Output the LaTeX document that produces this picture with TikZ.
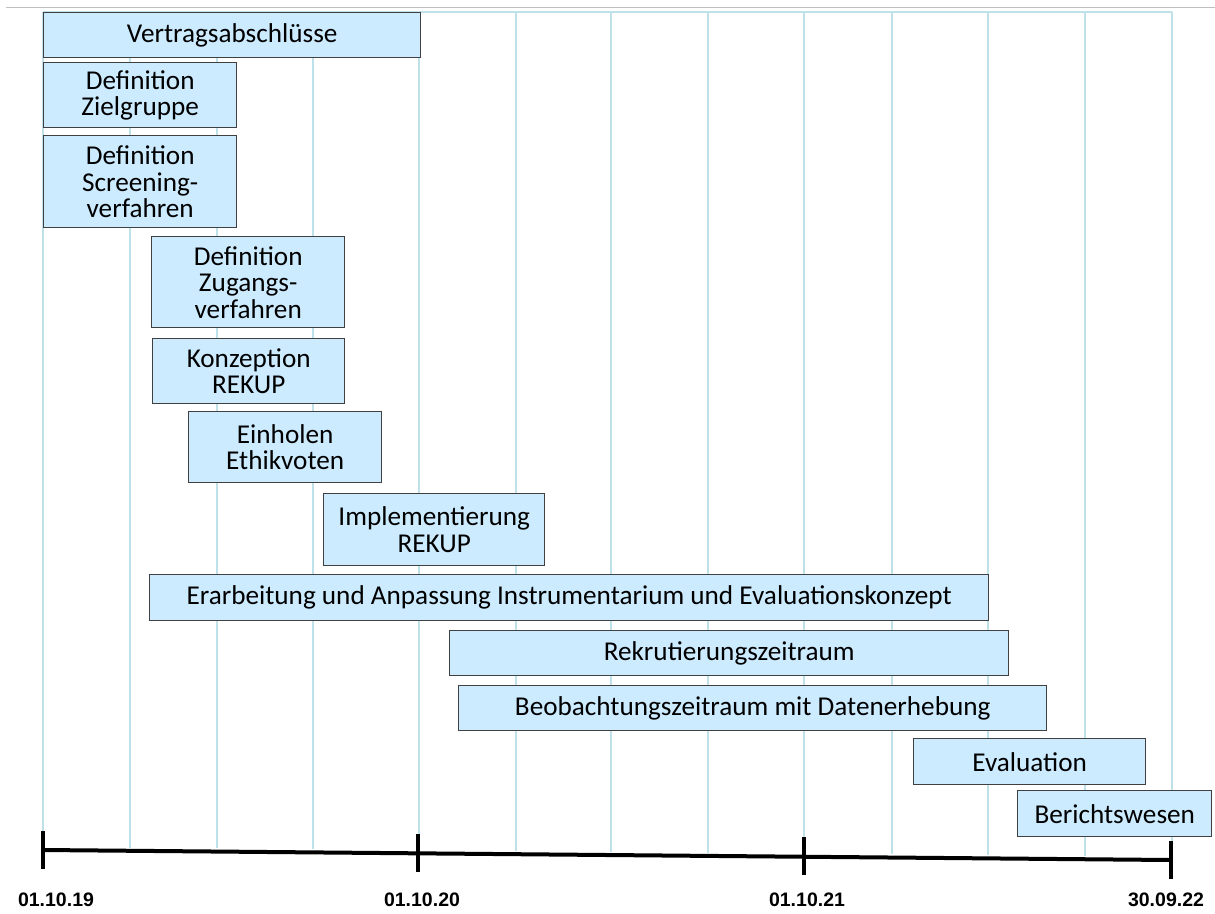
\documentclass[tikz,border=0pt]{standalone}
\usepackage{fontspec}
\setmainfont{Carlito}
\newfontfamily\datefont{Liberation Sans}
\definecolor{barfill}{RGB}{204,235,255}
\definecolor{barline}{RGB}{64,64,64}
\definecolor{gridblue}{RGB}{190,225,234}
\tikzset{
  bar/.style={draw=barline, fill=barfill, line width=1.4pt, anchor=north west,
    inner sep=0pt, align=center, font=\fontsize{27.2}{26.5}\selectfont},
  gridline/.style={gridblue, line width=1.2pt},
  datelabel/.style={font=\datefont\bfseries\fontsize{19.5}{22}\selectfont, anchor=base}
}
\begin{document}
\begin{tikzpicture}[x=1pt, y=-1pt]
  \useasboundingbox (0,0) rectangle (1215,913);
  \draw[black!25, line width=1pt] (6,7) -- (1215,7);
  % month grid
  \draw[gridline, line width=2pt] (43,12) -- (1172,12);
  \foreach \x in {43,130,217,313,419,516,611,708,804,892,988,1085,1172}
    \draw[gridline] (\x,12) -- (\x,{847+(\x-43)*0.0085});

  \node[bar, minimum width=377pt, minimum height=45pt] (vertrag) at (43,12) {Vertragsabschlüsse};
  \node[bar, minimum width=193pt, minimum height=65pt] (zielgruppe) at (43,62) {Definition\\Zielgruppe};
  \node[bar, minimum width=193pt, minimum height=92pt] (screening) at (43,135) {Definition\\Screening-\\verfahren};
  \node[bar, minimum width=193pt, minimum height=91pt] (zugang) at (151,236) {Definition\\Zugangs-\\verfahren};
  \node[bar, minimum width=192pt, minimum height=65pt] (konzeption) at (152,338) {Konzeption\\REKUP};
  \node[bar, minimum width=193pt, minimum height=71pt] (ethik) at (188,411) {Einholen\\Ethikvoten};
  \node[bar, minimum width=221pt, minimum height=72pt] (implement) at (323,493) {Implementierung\\REKUP};
  \node[bar, minimum width=839pt, minimum height=46pt] (erarbeitung) at (149,574) {Erarbeitung und Anpassung Instrumentarium und Evaluationskonzept};
  \node[bar, minimum width=559pt, minimum height=45pt] (rekrut) at (449,630) {Rekrutierungszeitraum};
  \node[bar, minimum width=588pt, minimum height=45pt] (beobacht) at (458,685) {Beobachtungszeitraum mit Datenerhebung};
  \node[bar, minimum width=232pt, minimum height=46pt] (evaluation) at (913,738) {Evaluation};
  \node[bar, minimum width=194pt, minimum height=46pt] (bericht) at (1017,790) {Berichtswesen};

  % time axis
  \coordinate (t0) at (43,850);
  \coordinate (t1) at (418,853);
  \coordinate (t2) at (804,856);
  \coordinate (t3) at (1171,860);
  \draw[line width=4pt] (t0) -- (t3);
  \foreach \t in {t0,t1,t2,t3}
    \draw[line width=4pt] ([yshift=19pt]\t) -- ([yshift=-19pt]\t);

  \node[datelabel] (d0) at (56,906) {01.10.19};
  \node[datelabel] (d1) at (422,906) {01.10.20};
  \node[datelabel] (d2) at (807,906) {01.10.21};
  \node[datelabel] (d3) at (1166,906) {30.09.22};
\end{tikzpicture}
\end{document}
